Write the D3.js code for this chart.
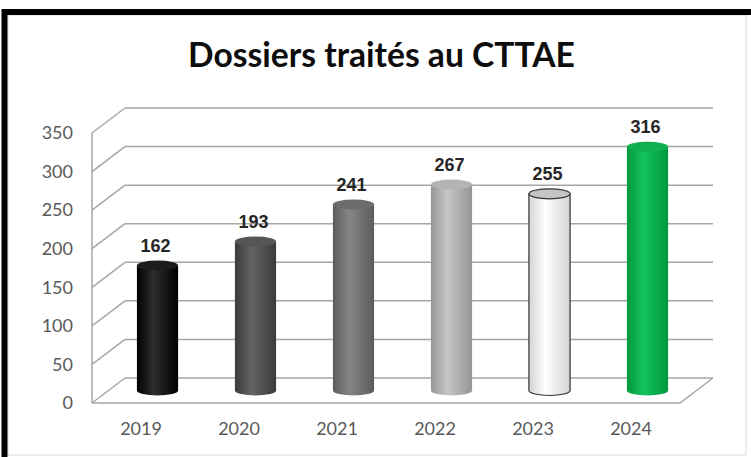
<!DOCTYPE html>
<html lang="fr">
<head>
  <meta charset="UTF-8">
  <script src="https://d3js.org/d3.v7.min.js"></script>
  <title>Dossiers traités au CTTAE</title>
  <style>
    body { margin: 0; background: #fff; }
  </style>
</head>
<body>
  <svg width="751" height="457"></svg>
  <script>
    // données
    var years = ["2019", "2020", "2021", "2022", "2023", "2024"];
    var dossiers = [162, 193, 241, 267, 255, 316];
    var yTicks = [0, 50, 100, 150, 200, 250, 300, 350];

    // couleurs des cylindres: [bord, centre, dessus]
    var cylColors = [
      ["#000000", "#2e2e2e", "#1c1c1c"],
      ["#3b3b3b", "#636363", "#565656"],
      ["#5c5c5c", "#858585", "#6c6c6c"],
      ["#969696", "#c6c6c6", "#b4b4b4"],
      ["#d4d4d4", "#ffffff", "#c4c4c4"],
      ["#00983f", "#14c25a", "#10b04e"]
    ];

    var svg = d3.select("svg");
    var defs = svg.append("defs");

    // cadre
    svg.append("rect").attr("x", 8).attr("y", 15).attr("width", 738).attr("height", 440)
      .attr("fill", "none").attr("stroke", "#d9d9d9").attr("stroke-width", 1);
    svg.append("path").attr("d", "M4.5,457 V12 H751")
      .attr("fill", "none").attr("stroke", "#000").attr("stroke-width", 6);

    // titre
    var title = svg.append("text")
      .attr("x", 381.5).attr("y", 67)
      .attr("text-anchor", "middle")
      .style("font-family", "Lato, 'Open Sans', sans-serif")
      .style("font-weight", "bold")
      .style("font-size", "33px")
      .style("fill", "#0d0d0d")
      .text("Dossiers traités au CTTAE");
    var tw = title.node().getComputedTextLength();
    title.style("font-size", (33 * 387 / tw) + "px");

    // échelles (plan avant)
    var plotLeft = 92, plotRight = 680, plotBottom = 403, plotTop = 133;
    var depthX = 33, depthY = -25;

    var x = d3.scaleBand()
      .domain(years)
      .range([plotLeft, plotRight])
      .paddingInner(0.58)
      .paddingOuter(0.29);

    var y = d3.scaleLinear()
      .domain([0, 350])
      .range([plotBottom, plotTop]);

    var grid = svg.append("g")
      .attr("stroke", "#a6a6a6")
      .attr("stroke-width", 1.5)
      .attr("fill", "none");

    // mur du fond
    grid.selectAll(".back").data(yTicks).enter().append("line")
      .attr("x1", plotLeft + depthX).attr("x2", plotRight + depthX)
      .attr("y1", function(d){ return y(d) + depthY; })
      .attr("y2", function(d){ return y(d) + depthY; });

    // mur de gauche
    grid.selectAll(".side").data(yTicks).enter().append("line")
      .attr("x1", plotLeft).attr("x2", plotLeft + depthX)
      .attr("y1", function(d){ return y(d); })
      .attr("y2", function(d){ return y(d) + depthY; });
    grid.append("line")
      .attr("x1", plotLeft).attr("x2", plotLeft)
      .attr("y1", y(350)).attr("y2", y(0));

    // sol
    grid.append("path")
      .attr("d", "M" + plotLeft + "," + y(0) + " L" + plotRight + "," + y(0) +
        " L" + (plotRight + depthX) + "," + (y(0) + depthY));

    // axes
    var yAxis = svg.append("g")
      .attr("transform", "translate(" + plotLeft + ",0)")
      .call(d3.axisLeft(y).tickValues(yTicks).tickSize(0).tickPadding(19));
    var xAxis = svg.append("g")
      .attr("transform", "translate(0," + plotBottom + ")")
      .call(d3.axisBottom(x).tickSize(0).tickPadding(19));
    [yAxis, xAxis].forEach(function(a){
      a.select(".domain").remove();
      a.selectAll("text")
        .style("font-family", "Lato, 'Open Sans', sans-serif")
        .style("font-size", "18px")
        .style("fill", "#595959");
    });

    // cylindres
    var bw = x.bandwidth();
    var rx = bw / 2, ry = 5;
    var base = y(0) + depthY / 2;

    years.forEach(function(yr, i){
      var c = cylColors[i];
      var grad = defs.append("linearGradient")
        .attr("id", "cyl" + i)
        .attr("x1", "0%").attr("x2", "100%");
      grad.append("stop").attr("offset", "0%").attr("stop-color", c[0]);
      grad.append("stop").attr("offset", "40%").attr("stop-color", c[1]);
      grad.append("stop").attr("offset", "100%").attr("stop-color", c[0]);
    });

    var bars = svg.selectAll(".bar")
      .data(dossiers)
      .enter()
      .append("g")
      .attr("transform", function(d, i){
        return "translate(" + (x(years[i]) + depthX / 2) + ",0)";
      });

    bars.append("path")
      .attr("d", function(d){
        var t = y(d) + depthY / 2;
        return "M0," + t + " L0," + base +
          " A" + rx + "," + ry + " 0 0 0 " + bw + "," + base +
          " L" + bw + "," + t + " Z";
      })
      .attr("fill", function(d, i){ return "url(#cyl" + i + ")"; })
      .attr("stroke", function(d, i){ return i === 4 ? "#333" : "none"; })
      .attr("stroke-width", 1.2);

    bars.append("ellipse")
      .attr("cx", rx)
      .attr("cy", function(d){ return y(d) + depthY / 2; })
      .attr("rx", rx).attr("ry", ry)
      .attr("fill", function(d, i){ return cylColors[i][2]; })
      .attr("stroke", function(d, i){ return i === 4 ? "#333" : "none"; })
      .attr("stroke-width", 1.2);

    // étiquettes
    bars.append("text")
      .attr("x", rx - 2)
      .attr("y", function(d){ return y(d) + depthY / 2 - 14; })
      .attr("text-anchor", "middle")
      .style("font-family", "'Liberation Sans', Arial, sans-serif")
      .style("font-weight", "bold")
      .style("font-size", "18px")
      .style("fill", "#262626")
      .text(function(d){ return d; });
  </script>
</body>
</html>
